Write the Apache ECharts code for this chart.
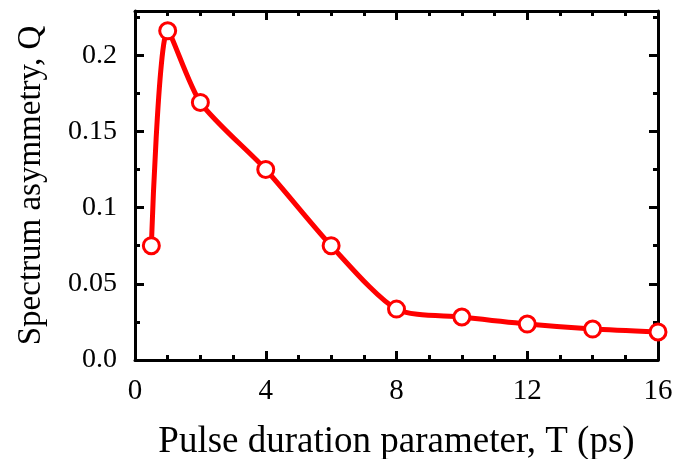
<!DOCTYPE html>
<html><head><meta charset="utf-8">
<script src="https://cdn.jsdelivr.net/npm/echarts@6/dist/echarts.min.js"></script>
<style>html,body{margin:0;padding:0;background:#fff}#c{width:688px;height:459px}</style>
</head><body><div id="c"></div>
<script>
const xValues = [0.5, 1, 2, 4, 6, 8, 10, 12, 14, 16];
const qValues = [0.075, 0.216, 0.169, 0.125, 0.075, 0.0334, 0.0282, 0.0236, 0.0203, 0.0184];
const xTicks = [0, 4, 8, 12, 16];
const yTicks = [0, 0.05, 0.1, 0.15, 0.2];
const xTitle = 'Pulse duration parameter, T (ps)';
const yTitle = 'Spectrum asymmetry, Q';

const font = 'Liberation Serif';
const axisLine = {show: true, onZero: false, lineStyle: {color: '#000', width: 3}};
const chart = echarts.init(document.getElementById('c'));
function xAx(pos, lab) {
  return {type: 'value', position: pos, min: 0, max: 16, interval: 4,
    axisLine, splitLine: {show: false},
    axisTick: {show: true, inside: true, length: 9, lineStyle: {color: '#000', width: 3}},
    minorTick: {show: true, splitNumber: 4, length: 5, lineStyle: {color: '#000', width: 3}},
    axisLabel: {show: lab, fontFamily: font, fontSize: 29, color: '#000', margin: 17,
      customValues: xTicks},
    name: lab ? xTitle : '', nameLocation: 'middle', nameGap: 64,
    nameTextStyle: {fontFamily: font, fontSize: 37, color: '#000'}};
}
function yAx(pos, lab) {
  return {type: 'value', position: pos, min: 0, max: 0.229, interval: 0.05,
    axisLine, splitLine: {show: false},
    axisTick: {show: true, inside: true, length: 9, lineStyle: {color: '#000', width: 3},
      customValues: yTicks},
    minorTick: {show: true, splitNumber: 2, length: 5, lineStyle: {color: '#000', width: 3}},
    axisLabel: {show: lab, fontFamily: font, fontSize: 28, color: '#000', margin: 18,
      customValues: yTicks,
      formatter: v => v === 0 ? '0.0' : String(+v.toFixed(2))},
    name: lab ? yTitle : '', nameLocation: 'middle', nameGap: 87,
    nameTextStyle: {fontFamily: font, fontSize: 33, color: '#000'}};
}
chart.setOption({
  animation: false,
  grid: {left: 135, right: 30, top: 11, bottom: 99, containLabel: false, outerBoundsMode: 'none'},
  xAxis: [xAx('bottom', true), xAx('top', false)],
  yAxis: [yAx('left', true), yAx('right', false)],
  series: [{
    type: 'line', smooth: 0.25,
    data: xValues.map((x, i) => [x, qValues[i]]),
    lineStyle: {color: '#ff0000', width: 5},
    symbol: 'circle', symbolSize: 16,
    itemStyle: {color: '#fff', borderColor: '#ff0000', borderWidth: 3},
    z: 5
  }]
});
</script></body></html>
